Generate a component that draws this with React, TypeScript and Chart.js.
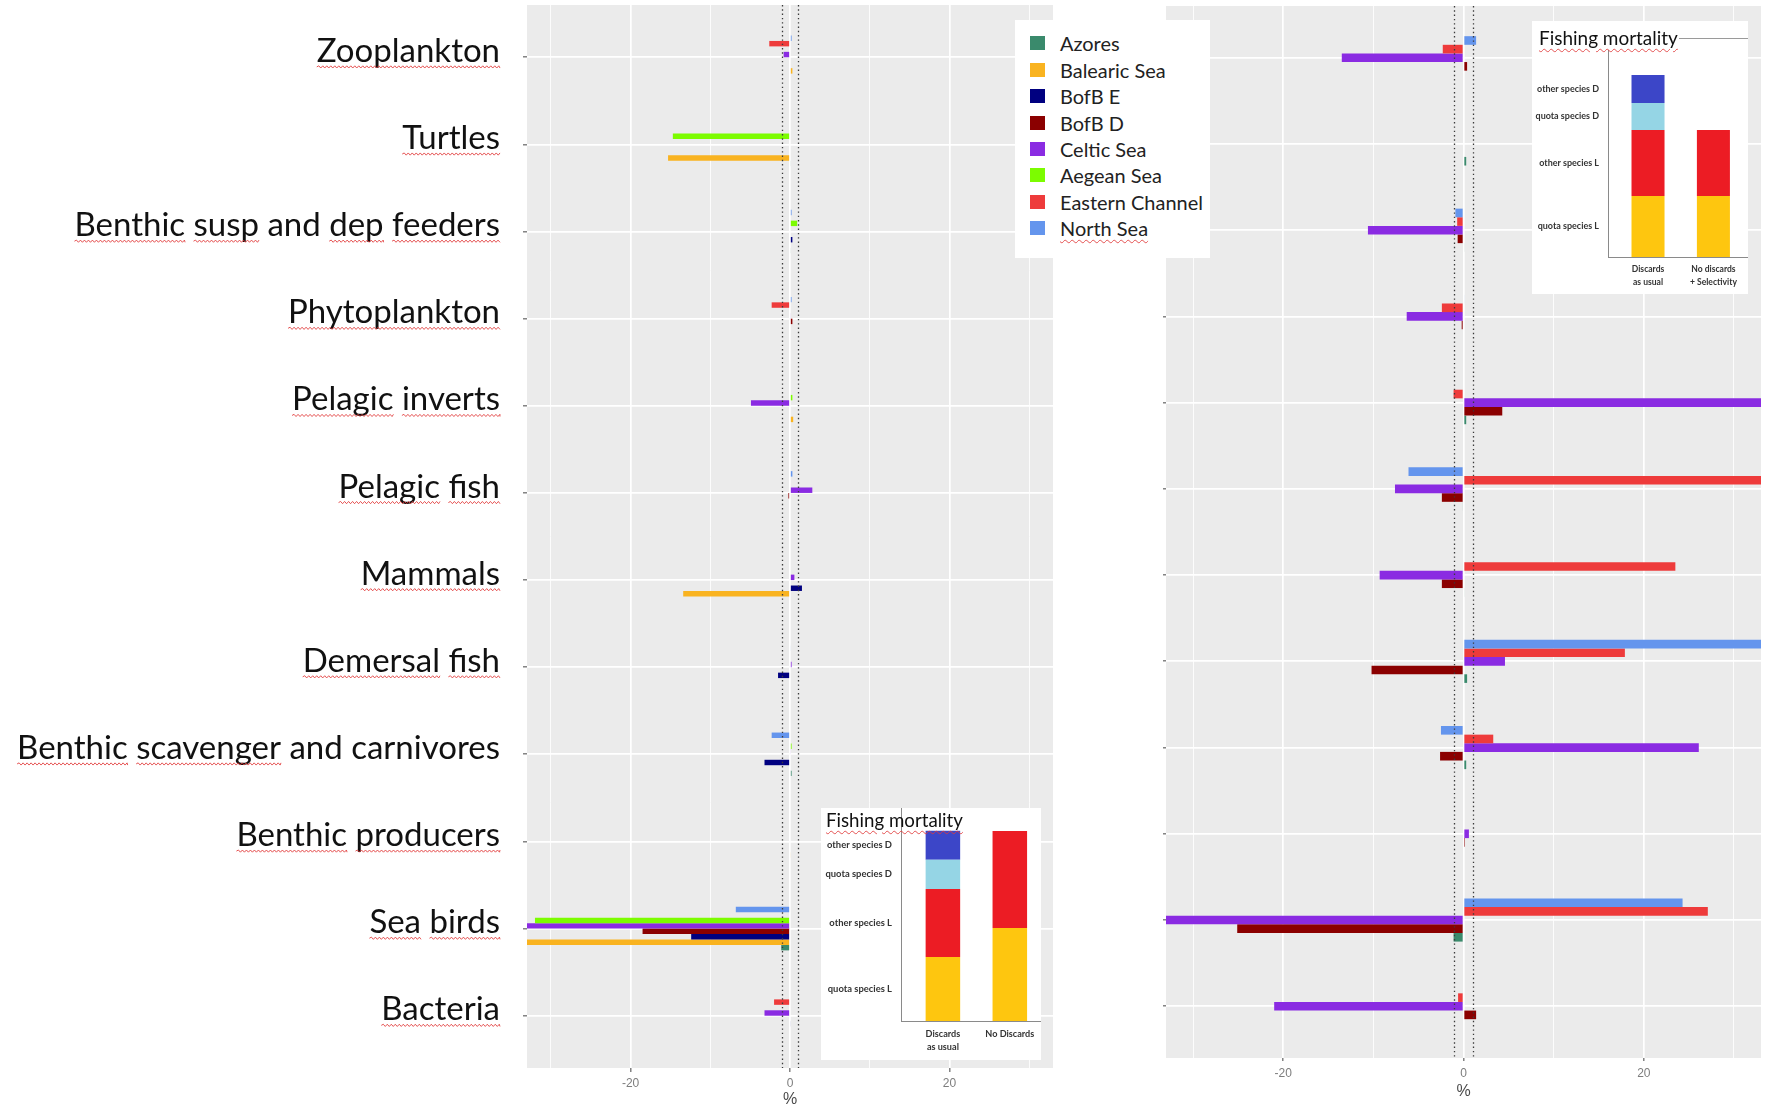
import React, { useEffect, useRef } from "react";
import { Chart, registerables } from "chart.js";

Chart.register(...registerables);

// ---------------- data ----------------
const categories = [
  "Zooplankton",
  "Turtles",
  "Benthic susp and dep feeders",
  "Phytoplankton",
  "Pelagic inverts",
  "Pelagic fish",
  "Mammals",
  "Demersal fish",
  "Benthic scavenger and carnivores",
  "Benthic producers",
  "Sea birds",
  "Bacteria",
];

const legendOrder = [
  "Azores",
  "Balearic Sea",
  "BofB E",
  "BofB D",
  "Celtic Sea",
  "Aegean Sea",
  "Eastern Channel",
  "North Sea",
];

const regionColors: Record<string, string> = {
  Azores: "#3A8A6C",
  "Balearic Sea": "#F9B320",
  "BofB E": "#000080",
  "BofB D": "#8B0000",
  "Celtic Sea": "#8A2BE2",
  "Aegean Sea": "#7CFC00",
  "Eastern Channel": "#EE3B3B",
  "North Sea": "#6495ED",
};

// left panel: % change (No Discards)
const leftNorthSea = [0.2, 0, 0.2, 0.2, 0, 0.3, 0, 0.1, -2.3, 0, -6.8, 0];
const leftEasternChannel = [-2.6, 0, 0, -2.3, 0, 0, 0, 0, 0, 0, 0, -2.0];
const leftAegeanSea = [0, -14.7, 0.9, 0, 0.3, 0, 0, 0, 0.2, 0, -32.0, 0];
const leftCelticSea = [-0.8, 0, 0, 0.1, -4.9, 2.8, 0.55, 0.2, 0.1, 0, -36, -3.2];
const leftBofBD = [0, 0, 0, 0.3, 0, -0.2, 0, 0, 0, 0, -18.5, 0];
const leftBofBE = [0, 0, 0.3, 0, 0, 0, 1.5, -1.5, -3.2, 0, -12.4, 0.1];
const leftBalearicSea = [0.3, -15.3, 0, 0, 0.4, 0, -13.4, 0, 0, 0.1, -36, 0];
const leftAzores = [0, 0.1, 0.1, 0, 0, 0, 0, 0, 0.2, 0, -1.1, 0];

// right panel: % change (No discards + Selectivity)
const rightNorthSea = [1.4, 0, -0.9, 0.1, 0, -6.1, 0, 36, -2.5, 0, 24.3, 0];
const rightEasternChannel = [-2.3, 0, -0.7, -2.4, -1.1, 36, 23.5, 17.9, 3.3, 0, 27.1, -0.6];
const rightCelticSea = [-13.5, 0, -10.6, -6.3, 36, -7.6, -9.3, 4.6, 26.1, 0.6, -36, -21.0];
const rightBofBD = [0.4, 0, -0.65, -0.2, 4.3, -2.4, -2.4, -10.2, -2.6, 0.15, -25.1, 1.4];
const rightAzores = [0, 0.3, 0.1, 0, 0.3, -0.1, 0.1, 0.4, 0.3, 0, -1.1, 0];

const xLimits = [-33, 33];
const xLabelledTicks = [-20, 0, 20];
const refLines = [-1, 1];

// Fishing mortality insets (stacked, bottom to top)
const fmSegments = ["quota species L", "other species L", "quota species D", "other species D"];
const fmColors = ["#FEC60F", "#EC1C24", "#95D5E5", "#3C46C8"];
const fmLeftCategories = [["Discards", "as usual"], ["No Discards"]];
const fmLeftQuotaL = [33.7, 48.9];
const fmLeftOtherL = [35.8, 51.1];
const fmLeftQuotaD = [15.3, 0];
const fmLeftOtherD = [15.3, 0];
const fmRightCategories = [["Discards", "as usual"], ["No discards", "+ Selectivity"]];
const fmRightQuotaL = [33.5, 33.5];
const fmRightOtherL = [36.3, 36.3];
const fmRightQuotaD = [14.8, 0];
const fmRightOtherD = [15.4, 0];

// ---------------- helpers ----------------
const FAMILY = "Lato";
const measureCtx: CanvasRenderingContext2D | null =
  typeof document !== "undefined" ? document.createElement("canvas").getContext("2d") : null;
function fitSize(text: string, target: number, weight = "normal") {
  if (!measureCtx) return 20;
  measureCtx.font = `${weight} 100px ${FAMILY}`;
  const w = measureCtx.measureText(text).width;
  return (100 * target) / w;
}

const labelFontSize = fitSize("Benthic scavenger and carnivores", 483);
const legendFontSize = fitSize("Eastern Channel", 143);
const titleFontLeft = fitSize("Fishing mortality", 137);
const titleFontRight = fitSize("Fishing mortality", 139);
const segFontLeft = fitSize("other species D", 65, "bold");
const segFontRight = fitSize("other species D", 62, "bold");
const xcatFontLeft = fitSize("No Discards", 49, "bold");
const xcatFontRight = fitSize("+ Selectivity", 47, "bold");

const Y_TICK_PAD = 23;
const LABEL_OFFSET = -6;
const notFlagged = ["and", "carnivores"];

function drawWave(ctx: CanvasRenderingContext2D, x0: number, x1: number, y: number) {
  ctx.beginPath();
  ctx.moveTo(x0, y);
  let up = true;
  for (let x = x0; x < x1; x += 2) {
    ctx.lineTo(Math.min(x + 2, x1), y + (up ? -1.1 : 1.1));
    up = !up;
  }
  ctx.stroke();
}

const panelBg = {
  id: "panelBg",
  beforeDraw(chart: any) {
    const { ctx, chartArea: a } = chart;
    ctx.save();
    ctx.fillStyle = "#EBEBEB";
    ctx.fillRect(a.left, a.top, a.right - a.left, a.bottom - a.top);
    ctx.restore();
  },
};

const refLinePlugin = {
  id: "refLines",
  afterDatasetsDraw(chart: any) {
    const { ctx, chartArea: a, scales } = chart;
    ctx.save();
    ctx.strokeStyle = "#3a3a3a";
    ctx.lineWidth = 1.3;
    ctx.setLineDash([1.4, 2.9]);
    refLines.forEach((v) => {
      const x = Math.round(scales.x.getPixelForValue(v)) + 0.5;
      ctx.beginPath();
      ctx.moveTo(x, a.top);
      ctx.lineTo(x, a.bottom);
      ctx.stroke();
    });
    ctx.restore();
  },
};

const wavyLabelsPlugin = {
  id: "wavyLabels",
  afterDraw(chart: any) {
    const ys = chart.scales.y;
    const ctx: CanvasRenderingContext2D = chart.ctx;
    ctx.save();
    ctx.font = `normal ${labelFontSize}px ${FAMILY}`;
    ctx.textBaseline = "middle";
    const desc = ctx.measureText("H").actualBoundingBoxDescent;
    const right = ys.right - 4 - Y_TICK_PAD;
    ctx.strokeStyle = "rgba(225,55,55,0.85)";
    ctx.lineWidth = 1;
    ys.ticks.forEach((t: any) => {
      const text = categories[Math.round(t.value)];
      if (!text) return;
      const cy = ys.getPixelForValue(t.value) + LABEL_OFFSET;
      const full = ctx.measureText(text).width;
      const x0 = right - full;
      let pos = 0;
      text.split(" ").forEach((w) => {
        const xs = x0 + ctx.measureText(text.slice(0, pos)).width;
        const xe = xs + ctx.measureText(w).width;
        if (!notFlagged.includes(w)) drawWave(ctx, xs, xe, cy + desc + 5);
        pos += w.length + 1;
      });
    });
    ctx.restore();
  },
};

const segLabelPlugin = {
  id: "segLabels",
  afterDatasetsDraw(chart: any, _args: any, opts: any) {
    const { ctx, chartArea: a } = chart;
    ctx.save();
    ctx.font = `bold ${opts.size}px ${FAMILY}`;
    ctx.fillStyle = "#333";
    ctx.textAlign = "right";
    ctx.textBaseline = "middle";
    chart.data.datasets.forEach((ds: any, k: number) => {
      const el = chart.getDatasetMeta(k).data[0] as any;
      if (!el || !ds.data[0] || !ds.data[0].y) return;
      const y = (el.y + el.base) / 2;
      ctx.fillText(ds.label, a.left - 9, y);
    });
    ctx.restore();
  },
};

type Series = { name: string; values: number[] };

function mainConfig(o: {
  series: Series[];
  showLabels: boolean;
  yWidth: number;
  xHeight: number;
  padding: { top: number; right: number; bottom: number; left: number };
  tickLen: number;
  xTickPad: number;
  titlePadBottom: number;
}): any {
  const plugins: any[] = [panelBg, refLinePlugin];
  if (o.showLabels) plugins.push(wavyLabelsPlugin);
  return {
    type: "bar",
    data: {
      datasets: o.series.map((s) => ({
        label: s.name,
        data: s.values.map((v, i) => ({ x: v, y: i })),
        backgroundColor: regionColors[s.name],
        borderWidth: 0,
        categoryPercentage: 0.5,
        barPercentage: 1,
        clip: 0,
      })),
    },
    options: {
      indexAxis: "y",
      animation: false,
      responsive: false,
      events: [],
      layout: { padding: o.padding },
      plugins: { legend: { display: false }, tooltip: { enabled: false } },
      scales: {
        x: {
          type: "linear",
          min: xLimits[0],
          max: xLimits[1],
          offset: false,
          border: { display: false },
          grid: {
            offset: false,
            color: "#FFFFFF",
            lineWidth: (c: any) => (c.tick && c.tick.value % 20 === 0 ? 1.7 : 0.85),
            tickColor: (c: any) =>
              c.tick && xLabelledTicks.includes(c.tick.value) ? "#444" : "rgba(0,0,0,0)",
            tickLength: o.tickLen,
            tickWidth: 1,
          },
          ticks: {
            stepSize: 10,
            maxTicksLimit: 100,
            includeBounds: false,
            autoSkip: false,
            maxRotation: 0,
            padding: o.xTickPad,
            color: "#7d7d7d",
            font: { family: "Liberation Sans", size: 12 },
            callback: (v: any) => (xLabelledTicks.includes(v) ? String(v) : ""),
          },
          title: {
            display: true,
            text: "%",
            color: "#4a4a4a",
            font: { family: "Liberation Sans", size: 16 },
            padding: { top: 0, bottom: o.titlePadBottom },
          },
          afterFit: (s: any) => {
            s.height = o.xHeight;
            s.paddingLeft = 0;
            s.paddingRight = 0;
          },
        },
        y: {
          type: "linear",
          reverse: true,
          min: -0.6,
          max: 11.6,
          offset: false,
          border: { display: false },
          grid: {
            offset: false,
            color: "#FFFFFF",
            lineWidth: 1.7,
            tickColor: "#444",
            tickLength: o.tickLen,
            tickWidth: 1,
          },
          ticks: {
            stepSize: 1,
            maxTicksLimit: 100,
            includeBounds: false,
            autoSkip: false,
            padding: o.showLabels ? Y_TICK_PAD : 0,
            labelOffset: o.showLabels ? LABEL_OFFSET : 0,
            color: "#111",
            font: { family: FAMILY, size: labelFontSize },
            callback: (v: any) => (o.showLabels ? categories[Math.round(v)] ?? "" : ""),
          },
          afterFit: (s: any) => {
            s.width = o.yWidth;
            s.paddingTop = 0;
            s.paddingBottom = 0;
          },
        },
      },
    },
    plugins,
  };
}

function insetConfig(o: {
  cats: string[][];
  values: number[][];
  xMin: number;
  xMax: number;
  yMax: number;
  yWidth: number;
  xHeight: number;
  padTop: number;
  barPct: number;
  segSize: number;
  catSize: number;
  catPad: number;
  catLine: number;
}): any {
  return {
    type: "bar",
    data: {
      datasets: fmSegments.map((name, k) => ({
        label: name,
        data: o.values[k].map((v, i) => ({ x: i, y: v })),
        backgroundColor: fmColors[k],
        borderWidth: 0,
        stack: "fm",
        categoryPercentage: 1,
        barPercentage: o.barPct,
        clip: 0,
      })),
    },
    options: {
      animation: false,
      responsive: false,
      events: [],
      layout: { padding: { top: o.padTop, right: 0, bottom: 0, left: 0 } },
      plugins: { legend: { display: false }, tooltip: { enabled: false }, segLabels: { size: o.segSize } },
      scales: {
        x: {
          type: "linear",
          min: o.xMin,
          max: o.xMax,
          offset: false,
          grid: { display: false, drawTicks: false, offset: false },
          border: { display: true, color: "#8a8a8a", width: 1 },
          ticks: {
            stepSize: 1,
            maxTicksLimit: 100,
            includeBounds: false,
            autoSkip: false,
            maxRotation: 0,
            padding: o.catPad,
            color: "#333",
            font: { family: FAMILY, size: o.catSize, weight: "bold", lineHeight: o.catLine },
            callback: (v: any) => o.cats[Math.round(v)] ?? "",
          },
          afterFit: (s: any) => {
            s.height = o.xHeight;
            s.paddingLeft = 0;
            s.paddingRight = 0;
          },
        },
        y: {
          type: "linear",
          min: 0,
          max: o.yMax,
          stacked: true,
          grid: { display: false, drawTicks: false },
          border: { display: true, color: "#8a8a8a", width: 1 },
          ticks: { display: false },
          afterFit: (s: any) => {
            s.width = o.yWidth;
            s.paddingTop = 0;
            s.paddingBottom = 0;
          },
        },
      },
    },
    plugins: [segLabelPlugin],
  };
}

const wavy: React.CSSProperties = {
  textDecorationLine: "underline",
  textDecorationStyle: "wavy",
  textDecorationColor: "rgba(225,55,55,0.85)",
  textDecorationThickness: "1px",
  textUnderlineOffset: "3px",
};

export default function App() {
  const leftRef = useRef<HTMLCanvasElement>(null);
  const rightRef = useRef<HTMLCanvasElement>(null);
  const insetLRef = useRef<HTMLCanvasElement>(null);
  const insetRRef = useRef<HTMLCanvasElement>(null);

  useEffect(() => {
    const charts: Chart[] = [];
    const leftSeries: Series[] = [
      { name: "North Sea", values: leftNorthSea },
      { name: "Eastern Channel", values: leftEasternChannel },
      { name: "Aegean Sea", values: leftAegeanSea },
      { name: "Celtic Sea", values: leftCelticSea },
      { name: "BofB D", values: leftBofBD },
      { name: "BofB E", values: leftBofBE },
      { name: "Balearic Sea", values: leftBalearicSea },
      { name: "Azores", values: leftAzores },
    ];
    const rightSeries: Series[] = [
      { name: "North Sea", values: rightNorthSea },
      { name: "Eastern Channel", values: rightEasternChannel },
      { name: "Celtic Sea", values: rightCelticSea },
      { name: "BofB D", values: rightBofBD },
      { name: "Azores", values: rightAzores },
    ];
    if (leftRef.current)
      charts.push(
        new Chart(
          leftRef.current,
          mainConfig({
            series: leftSeries,
            showLabels: true,
            yWidth: 527,
            xHeight: 39,
            padding: { top: 5, right: 9, bottom: 0, left: 0 },
            tickLen: 4,
            xTickPad: 4,
            titlePadBottom: -2,
          })
        )
      );
    if (rightRef.current)
      charts.push(
        new Chart(
          rightRef.current,
          mainConfig({
            series: rightSeries,
            showLabels: false,
            yWidth: 66,
            xHeight: 43,
            padding: { top: 6, right: 10, bottom: 6, left: 0 },
            tickLen: 3,
            xTickPad: 5,
            titlePadBottom: 0,
          })
        )
      );
    if (insetLRef.current)
      charts.push(
        new Chart(
          insetLRef.current,
          insetConfig({
            cats: fmLeftCategories,
            values: [fmLeftQuotaL, fmLeftOtherL, fmLeftQuotaD, fmLeftOtherD],
            xMin: -0.626,
            xMax: 1.466,
            yMax: 112.1,
            yWidth: 80,
            xHeight: 39,
            padTop: 0,
            barPct: 0.516,
            segSize: segFontLeft,
            catSize: xcatFontLeft,
            catPad: 6,
            catLine: 1.45,
          })
        )
      );
    if (insetRRef.current)
      charts.push(
        new Chart(
          insetRRef.current,
          insetConfig({
            cats: fmRightCategories,
            values: [fmRightQuotaL, fmRightOtherL, fmRightQuotaD, fmRightOtherD],
            xMin: -0.612,
            xMax: 1.529,
            yMax: 113.7,
            yWidth: 76,
            xHeight: 37,
            padTop: 29,
            barPct: 0.505,
            segSize: segFontRight,
            catSize: xcatFontRight,
            catPad: 5,
            catLine: 1.6,
          })
        )
      );
    return () => charts.forEach((c) => c.destroy());
  }, []);

  return (
    <div
      style={{
        position: "absolute",
        left: 0,
        top: 0,
        width: 1771,
        height: 1107,
        background: "#fff",
        overflow: "hidden",
      }}
    >
      <canvas
        ref={leftRef}
        width={1062}
        height={1107}
        style={{ position: "absolute", left: 0, top: 0, width: 1062, height: 1107 }}
      />
      <canvas
        ref={rightRef}
        width={671}
        height={1107}
        style={{ position: "absolute", left: 1100, top: 0, width: 671, height: 1107 }}
      />

      {/* legend */}
      <div style={{ position: "absolute", left: 1015, top: 20, width: 195, height: 238, background: "#fff" }}>
        {legendOrder.map((name, i) => (
          <div
            key={name}
            style={{
              position: "absolute",
              left: 0,
              top: 23.3 + i * 26.4 - 13,
              height: 26,
              display: "flex",
              alignItems: "center",
            }}
          >
            <div style={{ marginLeft: 15, width: 15, height: 14, background: regionColors[name] }} />
            <span
              style={{
                marginLeft: 15,
                fontFamily: FAMILY,
                fontSize: legendFontSize,
                lineHeight: "26px",
                color: "#222",
                whiteSpace: "nowrap",
                ...(name === "North Sea" ? wavy : {}),
              }}
            >
              {name}
            </span>
          </div>
        ))}
      </div>

      {/* left inset */}
      <div style={{ position: "absolute", left: 821, top: 808, width: 220, height: 252, background: "#fff" }}>
        <canvas ref={insetLRef} width={220} height={252} style={{ position: "absolute", left: 0, top: 0 }} />
        <span
          style={{
            position: "absolute",
            left: 5,
            top: 12 - titleFontLeft * 0.6,
            fontFamily: FAMILY,
            fontSize: titleFontLeft,
            lineHeight: `${titleFontLeft * 1.2}px`,
            color: "#111",
            whiteSpace: "nowrap",
            ...wavy,
          }}
        >
          Fishing mortality
        </span>
      </div>

      {/* right inset */}
      <div style={{ position: "absolute", left: 1532, top: 21, width: 216, height: 273, background: "#fff" }}>
        <canvas ref={insetRRef} width={216} height={273} style={{ position: "absolute", left: 0, top: 0 }} />
        <div style={{ position: "absolute", left: 147, top: 17, width: 69, height: 1, background: "#9a9a9a" }} />
        <span
          style={{
            position: "absolute",
            left: 7,
            top: 17 - titleFontRight * 0.6,
            fontFamily: FAMILY,
            fontSize: titleFontRight,
            lineHeight: `${titleFontRight * 1.2}px`,
            color: "#111",
            whiteSpace: "nowrap",
            ...wavy,
          }}
        >
          Fishing mortality
        </span>
      </div>
    </div>
  );
}
